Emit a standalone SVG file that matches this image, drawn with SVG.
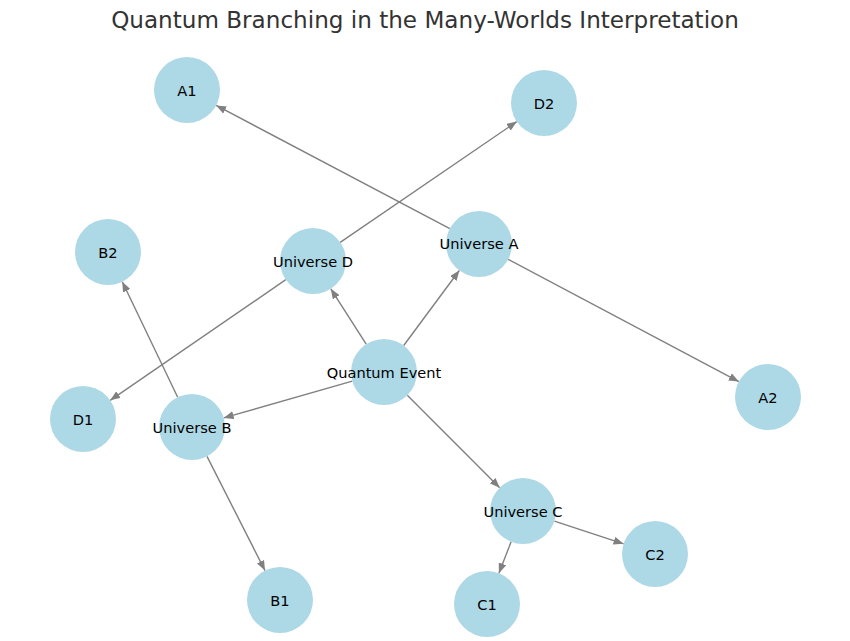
<svg xmlns="http://www.w3.org/2000/svg" width="850" height="641" viewBox="0 0 850 641">
<style>
.node circle{fill:#add8e6;}
.node text{font-family:"DejaVu Sans",sans-serif;font-size:14.6px;fill:#000;text-anchor:middle;dominant-baseline:central;}
.edges line{stroke:#808080;stroke-width:1.4;marker-end:url(#arr);}
.title{font-family:"DejaVu Sans",sans-serif;font-size:23.1px;fill:#333;text-anchor:middle;}
</style>
<defs>
<marker id="arr" markerUnits="userSpaceOnUse" markerWidth="10" markerHeight="8" refX="10" refY="4" orient="auto">
<path d="M0,0 L10,4 L0,8 z" fill="#808080"/>
</marker>
</defs>
<rect width="850" height="641" fill="#fff"/>
<text class="title" x="425" y="28">Quantum Branching in the Many-Worlds Interpretation</text>
<g class="edges">
<line x1="403.7" y1="345.5" x2="459.3" y2="270.5"/>
<line x1="366.2" y1="344.2" x2="330.8" y2="288.8"/>
<line x1="352.3" y1="381.1" x2="223.7" y2="417.9"/>
<line x1="407.3" y1="395.3" x2="499.7" y2="487.7"/>
<line x1="449.8" y1="228.6" x2="216.2" y2="105.4"/>
<line x1="508.2" y1="259.4" x2="738.8" y2="381.6"/>
<line x1="207" y1="456.4" x2="265" y2="570.6"/>
<line x1="177.7" y1="397.2" x2="122.3" y2="281.8"/>
<line x1="511.1" y1="541.8" x2="498.9" y2="573.2"/>
<line x1="554.4" y1="521.2" x2="623.6" y2="543.8"/>
<line x1="285.8" y1="279.7" x2="110.2" y2="400.3"/>
<line x1="340.2" y1="242.4" x2="516.8" y2="121.6"/>
</g>
<g id="n-qe" class="node"><circle cx="384" cy="372" r="33"/><text x="384" y="372">Quantum Event</text></g>
<g id="n-ua" class="node"><circle cx="479" cy="244" r="33"/><text x="479" y="243">Universe A</text></g>
<g id="n-ud" class="node"><circle cx="313" cy="261" r="33"/><text x="313" y="261">Universe D</text></g>
<g id="n-ub" class="node"><circle cx="192" cy="427" r="33"/><text x="192" y="427">Universe B</text></g>
<g id="n-uc" class="node"><circle cx="523" cy="511" r="33"/><text x="523" y="511">Universe C</text></g>
<g id="n-a1" class="node"><circle cx="187" cy="90" r="33"/><text x="187" y="90">A1</text></g>
<g id="n-a2" class="node"><circle cx="768" cy="397" r="33"/><text x="768" y="397">A2</text></g>
<g id="n-b1" class="node"><circle cx="280" cy="600" r="33"/><text x="280" y="600">B1</text></g>
<g id="n-b2" class="node"><circle cx="108" cy="252" r="33"/><text x="108" y="252">B2</text></g>
<g id="n-c1" class="node"><circle cx="487" cy="604" r="33"/><text x="487" y="604">C1</text></g>
<g id="n-c2" class="node"><circle cx="655" cy="554" r="33"/><text x="655" y="554">C2</text></g>
<g id="n-d1" class="node"><circle cx="83" cy="419" r="33"/><text x="83" y="419">D1</text></g>
<g id="n-d2" class="node"><circle cx="544" cy="103" r="33"/><text x="544" y="103">D2</text></g>
</svg>
